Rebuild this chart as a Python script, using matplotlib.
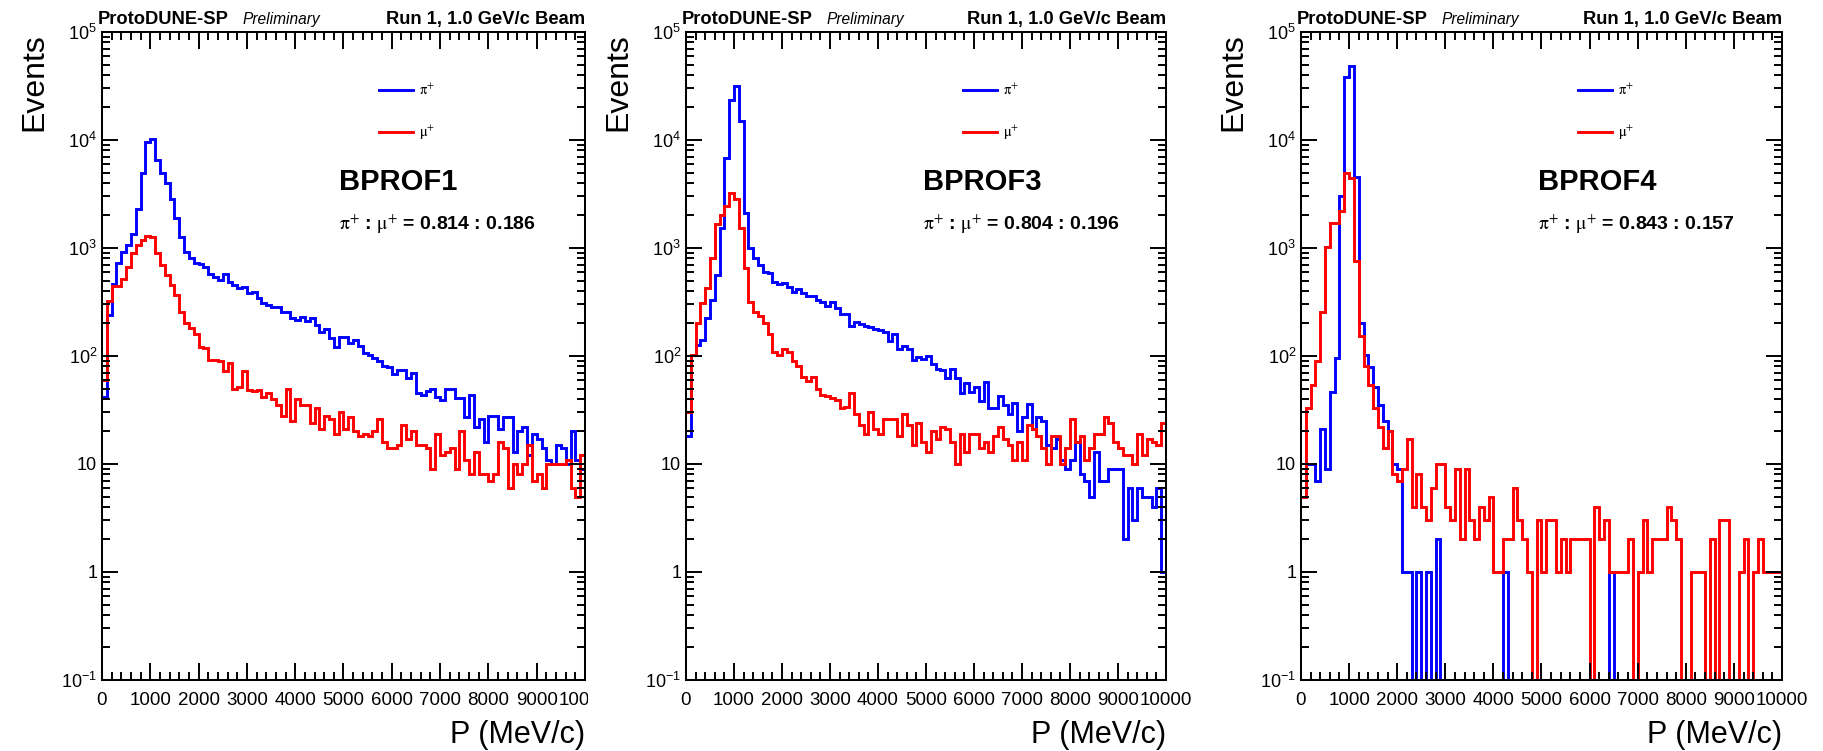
import numpy as np
import matplotlib
matplotlib.use("Agg")
import matplotlib.pyplot as plt
from matplotlib.ticker import FixedLocator, LogLocator, FuncFormatter, NullFormatter
from matplotlib.transforms import Bbox, TransformedBbox

plt.rcParams['font.family'] = ['Liberation Sans', 'DejaVu Sans']
plt.rcParams['mathtext.fontset'] = 'stix'

# ---------------- data (100 MeV/c bins, 0 - 10000 MeV/c) ----------------
bin_lo, bin_hi, bin_w = 0, 10000, 100

panel_names = ['BPROF1', 'BPROF3', 'BPROF4']
pi_fraction = [0.814, 0.804, 0.843]
mu_fraction = [0.186, 0.196, 0.157]
series_labels = [r'$\mathrm{\pi^{+}}$', r'$\mathrm{\mu^{+}}$']

bprof1_pi = [42, 240, 464, 721, 925, 1066, 1348, 2279, 4987, 9660,
             10150, 6530, 4910, 3970, 2825, 1884, 1274, 925, 802, 721,
             711, 671, 574, 543, 505, 574, 488, 454, 423, 438,
             380, 389, 342, 312, 297, 286, 282, 257, 257, 223,
             216, 231, 211, 223, 194, 168, 178, 146, 120, 151,
             151, 131, 141, 124, 106, 102, 95, 89, 80, 79,
             68, 74, 74, 62, 69, 45, 44, 47, 50, 42,
             39, 49, 49, 41, 41, 27, 44, 22, 26, 16,
             28, 28, 21, 27, 27, 13, 20, 22, 12, 19,
             17, 14, 11, 10, 15, 14, 10, 20, 11, 9]
bprof1_mu = [60, 325, 445, 445, 513, 671, 893, 1066, 1186, 1291,
             1277, 906, 696, 563, 454, 367, 257, 204, 180, 160,
             122, 118, 91, 91, 89, 73, 87, 50, 52, 73,
             48, 47, 48, 42, 45, 40, 35, 28, 50, 25,
             40, 35, 35, 24, 33, 21, 28, 26, 19, 30,
             21, 27, 20, 18, 19, 18, 20, 26, 16, 14,
             14, 15, 23, 17, 20, 15, 15, 14, 9, 19,
             12, 13, 14, 9, 20, 11, 8, 13, 8, 8,
             7, 8, 16, 14, 6, 10, 8, 10, 15, 7,
             8, 6, 10, 10, 10, 10, 11, 6, 5, 12]

bprof3_pi = [18, 102, 126, 141, 223, 330, 563, 1521, 6760, 23400,
             31800, 15000, 2094, 1007, 802, 696, 604, 583, 481, 461,
             471, 438, 394, 417, 380, 362, 362, 330, 319, 293,
             319, 276, 243, 243, 191, 205, 196, 191, 186, 178,
             174, 168, 138, 159, 116, 125, 116, 92, 97, 94,
             101, 84, 76, 74, 63, 75, 62, 45, 56, 46,
             52, 38, 57, 33, 33, 43, 35, 29, 37, 20,
             27, 36, 21, 27, 25, 15, 14, 17, 11, 9,
             11, 16, 8, 7, 5, 13, 7, 7, 9, 9,
             9, 2, 6, 3, 6, 5, 5, 4, 6, 1]
bprof3_mu = [30, 102, 200, 307, 423, 813, 1656, 2022, 2466, 3209,
             2843, 1543, 658, 314, 257, 236, 200, 159, 108, 102,
             116, 108, 90, 80, 64, 59, 64, 50, 44, 43,
             41, 39, 33, 34, 45, 29, 23, 19, 30, 21,
             19, 26, 26, 26, 18, 29, 23, 15, 24, 16,
             13, 20, 17, 22, 21, 16, 10, 19, 13, 19,
             19, 14, 16, 13, 18, 22, 17, 15, 11, 16,
             11, 23, 21, 18, 14, 10, 18, 18, 10, 14,
             26, 16, 18, 11, 14, 19, 19, 27, 24, 16,
             14, 12, 12, 10, 19, 12, 17, 16, 15, 24]

bprof4_pi = [5, 10, 10, 7, 21, 9, 46, 95, 3030, 38500,
             48400, 4510, 204, 102, 79, 52, 35, 25, 20, 10,
             9, 1, 1, 0, 1, 0, 1, 0, 2, 0,
             0, 0, 0, 0, 0, 0, 0, 0, 0, 0,
             0, 0, 1, 0, 0, 0, 0, 0, 0, 0,
             0, 0, 0, 0, 0, 0, 0, 0, 0, 0,
             0, 0, 0, 0, 1, 0, 0, 0, 0, 0,
             0, 0, 0, 0, 0, 0, 0, 0, 0, 0,
             0, 0, 0, 0, 0, 0, 0, 0, 0, 0,
             0, 0, 0, 0, 0, 0, 0, 0, 0, 0]
bprof4_mu = [5, 33, 54, 89, 257, 1027, 1690, 1690, 2220, 4990,
             4420, 764, 153, 81, 54, 33, 22, 14, 20, 8,
             7, 9, 17, 4, 8, 4, 3, 6, 10, 10,
             4, 3, 9, 2, 9, 3, 2, 4, 3, 5,
             1, 1, 2, 2, 6, 3, 2, 1, 0, 3,
             1, 3, 3, 1, 2, 1, 2, 2, 2, 2,
             0, 4, 2, 3, 1, 1, 1, 1, 2, 0,
             1, 3, 1, 2, 2, 2, 4, 3, 2, 0,
             0, 1, 1, 1, 0, 2, 0, 3, 3, 0,
             0, 1, 2, 0, 1, 2, 1, 1, 1, 1]

pi_series = [bprof1_pi, bprof3_pi, bprof4_pi]
mu_series = [bprof1_mu, bprof3_mu, bprof4_mu]

x_ticks = list(range(0, 10001, 1000))
y_decades = [0.1, 1, 10, 1e2, 1e3, 1e4, 1e5]

# ---------------- layout (pixels of the 1824x751 canvas) ----------------
W, H = 1824, 751
DPI = 100
ax_left = [102, 686, 1301]
ax_right = [585, 1166, 1782]
ax_top, ax_bot = 32, 680
pad_clip_right = [588, None, None]

fig = plt.figure(figsize=(W / DPI, H / DPI), dpi=DPI)
fig.patch.set_facecolor('white')


def fx(px):
    return px / W


def fy(py):
    return 1 - py / H


def ylab(v, pos):
    if v == 1:
        return '1'
    if v == 10:
        return '10'
    e = int(round(np.log10(v)))
    return r'$\mathregular{10^{%d}}$' % e


edges = np.arange(bin_lo, bin_hi + bin_w, bin_w)
colors = ['#0000ff', '#ff0000']
LW = 2.1

for k in range(3):
    L, R = ax_left[k], ax_right[k]
    ax = fig.add_axes([fx(L), fy(ax_bot), fx(R - L), (ax_bot - ax_top) / H])
    ax.set_yscale('log')
    ax.set_xlim(bin_lo, bin_hi)
    ax.set_ylim(0.1, 1e5)

    handles = []
    for vals, col, lab in zip([pi_series[k], mu_series[k]], colors, series_labels):
        v = np.clip(np.asarray(vals, dtype=float), 0.1, None)
        h = ax.stairs(v, edges, baseline=None, color=col, lw=LW, label=lab)
        handles.append(h)

    # ticks
    ax.xaxis.set_major_locator(FixedLocator(x_ticks))
    ax.xaxis.set_minor_locator(FixedLocator(list(range(0, 10001, 200))))
    ax.xaxis.set_major_formatter(FuncFormatter(lambda v, p: '%d' % v))
    ax.yaxis.set_major_locator(FixedLocator(y_decades))
    ax.yaxis.set_minor_locator(LogLocator(base=10, subs=np.arange(2, 10), numticks=20))
    ax.yaxis.set_major_formatter(FuncFormatter(ylab))
    ax.yaxis.set_minor_formatter(NullFormatter())
    ax.tick_params(which='both', direction='in', top=True, right=True,
                   width=1.4, color='black')
    ax.tick_params(axis='x', which='major', length=12.5, labelsize=13.5, pad=8.5)
    ax.tick_params(axis='x', which='minor', length=6)
    ax.tick_params(axis='y', which='major', length=11.5, labelsize=13, pad=3.5)
    ax.tick_params(axis='y', which='minor', length=5.8)
    for s in ax.spines.values():
        s.set_linewidth(1.45)

    if pad_clip_right[k] is not None:
        fig.canvas.draw()
        cb = TransformedBbox(Bbox.from_extents(0, 0, fx(pad_clip_right[k]), 1), fig.transFigure)
        for lbl in ax.get_xticklabels():
            lbl.set_clip_on(True)
            lbl.set_clip_box(cb)

    # legend
    ax.legend(handles=handles, loc='upper left',
              bbox_to_anchor=(277 / (R - L), 1 - (92 - 9 - ax_top) / (ax_bot - ax_top)),
              frameon=False, fontsize=10.5, handlelength=2.3, handletextpad=0.45,
              labelspacing=1.75, borderpad=0, borderaxespad=0)

    # panel text
    tx = L + 237
    fig.text(fx(tx), fy(190.5), panel_names[k], fontsize=21, fontweight='bold',
             ha='left', va='baseline')
    fig.text(fx(tx), fy(229.5),
             r'$\mathrm{\pi^{+}}$ : $\mathrm{\mu^{+}}$ = %.3f : %.3f' % (pi_fraction[k], mu_fraction[k]),
             fontsize=14, fontweight='bold', ha='left', va='baseline')

    # header
    fig.text(fx(L - 4), fy(24), 'ProtoDUNE-SP', fontsize=13.2, fontweight='bold',
             ha='left', va='baseline')
    fig.text(fx(L - 4 + 145), fy(24), 'Preliminary', fontsize=11.2, fontstyle='italic',
             ha='left', va='baseline')
    fig.text(fx(R), fy(24), 'Run 1, 1.0 GeV/c Beam', fontsize=13.2, fontweight='bold',
             ha='right', va='baseline')

    # axis titles
    fig.text(fx(L - 60), fy(33), 'Events', fontsize=23, rotation=90,
             rotation_mode='anchor', ha='right', va='baseline')
    fig.text(fx(R), fy(743), 'P (MeV/c)', fontsize=22, ha='right', va='baseline')

fig.savefig('out.png', dpi=DPI, facecolor='white')
